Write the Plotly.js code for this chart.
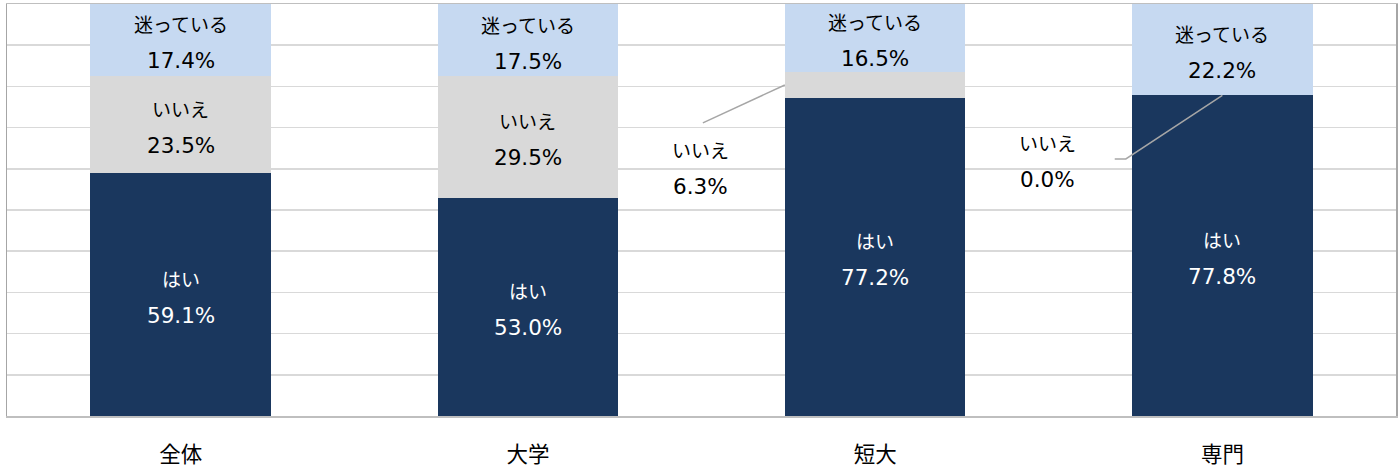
<!DOCTYPE html>
<html><head><meta charset="utf-8">
<script src="https://cdn.plot.ly/plotly-3.0.1.min.js"></script>
<style>html,body{margin:0;padding:0;background:#fff}#chart{width:1400px;height:468px}</style>
</head><body><div id="chart"></div>
<script>
const categories = ['全体', '大学', '短大', '専門'];
const seriesNames = ['はい', 'いいえ', '迷っている'];
const hai   = [59.1, 53.0, 77.2, 77.8];
const iie   = [23.5, 29.5, 6.3, 0.0];
const mayou = [17.4, 17.5, 16.5, 22.2];

const colors = ['#1A375E', '#D9D9D9', '#C6D9F1'];
const textColors = ['#FFFFFF', '#000000', '#000000'];
const FONT = 'DejaVu Sans, "Noto Sans CJK JP", sans-serif';
const JFONT = '"Noto Sans CJK JP", sans-serif';
const FS_NAME = 19;
const FS_VAL = 21.5;
const BARW = 0.52;
const xs = categories.map((c, i) => i);
const series = [hai, iie, mayou];

const traces = series.map((vals, s) => ({
  type: 'bar', x: xs, y: vals, name: seriesNames[s], width: BARW,
  marker: {color: colors[s], line: {width: 0}}, hoverinfo: 'none', showlegend: false
}));

const annotations = [];
const shapes = [];
const fmt = v => v.toFixed(1) + '%';
function addLabel(x, y, name, val, color) {
  annotations.push({x: x, y: y, xref: 'x', yref: 'y', text: name, showarrow: false,
    yshift: 16, font: {family: JFONT, size: FS_NAME, color: color}});
  annotations.push({x: x, y: y, xref: 'x', yref: 'y', text: fmt(val), showarrow: false,
    yshift: -21, font: {family: FONT, size: FS_VAL, color: color}});
}
// outside placement for small いいえ segments (layout offsets)
const outside = {2: {dx: -0.504, dy: -19.5, leader: 'left'}, 3: {dx: -0.505, dy: -15.4, leader: 'right'}};
xs.forEach((x, i) => {
  let base = 0;
  series.forEach((vals, s) => {
    const v = vals[i];
    const mid = base + v / 2;
    if (s === 1 && outside[i]) {
      const o = outside[i];
      const lx = x + o.dx, ly = mid + o.dy;
      addLabel(lx, ly, seriesNames[s], v, '#000000');
      if (o.leader === 'left') {
        shapes.push({type: 'line', xref: 'x', yref: 'y', x0: lx + 0.008, y0: ly + 10.3,
          x1: x - BARW / 2, y1: mid, line: {color: '#A6A6A6', width: 1.5}});
      } else {
        shapes.push({type: 'path', xref: 'x', yref: 'y',
          path: 'M ' + (lx + 0.195) + ' ' + ly + ' L ' + (lx + 0.227) + ' ' + ly + ' L ' + x + ' ' + mid,
          line: {color: '#A6A6A6', width: 1.5}});
      }
    } else {
      addLabel(x, mid, seriesNames[s], v, textColors[s]);
    }
    base += v;
  });
});

const layout = {
  width: 1400, height: 468,
  margin: {l: 7, r: 4, t: 4, b: 52},
  barmode: 'stack',
  paper_bgcolor: '#fff', plot_bgcolor: '#fff',
  font: {family: FONT, size: 20, color: '#000'},
  xaxis: {range: [-0.5, 3.5], tickvals: xs, ticktext: categories, ticks: '',
    ticklabelstandoff: 19,
    tickfont: {family: JFONT, size: 21.5, color: '#000'},
    showgrid: false, zeroline: false, showline: true, mirror: true, linecolor: '#BFBFBF', linewidth: 1.5, fixedrange: true},
  yaxis: {range: [0, 100], dtick: 10, showticklabels: false, ticks: '', showgrid: true,
    gridcolor: '#D9D9D9', gridwidth: 1.5, zeroline: false, showline: true, mirror: true,
    linecolor: '#A6A6A6', linewidth: 1.5, fixedrange: true},
  annotations: annotations, shapes: shapes
};
Plotly.newPlot('chart', traces, layout, {staticPlot: true, displayModeBar: false});
</script></body></html>
